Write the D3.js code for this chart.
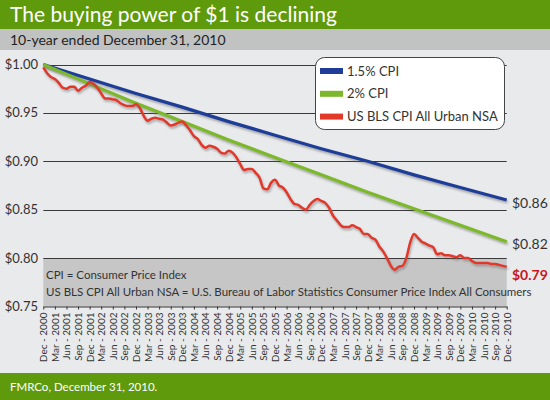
<!DOCTYPE html>
<html>
<head>
<meta charset="utf-8">
<script src="https://cdn.jsdelivr.net/npm/d3@7"></script>
<style>
  html, body { margin: 0; padding: 0; background: #fff; }
  svg { display: block; font-family: Lato, "Open Sans", sans-serif; }
</style>
</head>
<body>
<svg id="chart" width="550" height="400"></svg>
<script>
// ---- data ----
const title = "The buying power of $1 is declining";
const subtitle = "10-year ended December 31, 2010";
const footer = "FMRCo, December 31, 2010.";
const seriesNames = ["1.5% CPI", "2% CPI", "US BLS CPI All Urban NSA"];
const yTicks = [0.75, 0.80, 0.85, 0.90, 0.95, 1.00];
const xTickLabels = [
  "Dec - 2000","Mar - 2001","Jun - 2001","Sep - 2001","Dec - 2001","Mar - 2002","Jun - 2002","Sep - 2002",
  "Dec - 2002","Mar - 2003","Jun - 2003","Sep - 2003","Dec - 2003","Mar - 2004","Jun - 2004","Sep - 2004",
  "Dec - 2004","Mar - 2005","Jun - 2005","Sep - 2005","Dec - 2005","Mar - 2006","Jun - 2006","Sep - 2006",
  "Dec - 2006","Mar - 2007","Jun - 2007","Sep - 2007","Dec - 2007","Mar - 2008","Jun - 2008","Sep - 2008",
  "Dec - 2008","Mar - 2009","Jun - 2009","Sep - 2009","Dec - 2009","Mar - 2010","Jun - 2010","Sep - 2010",
  "Dec - 2010"
];
// yearly values (Dec 2000 .. Dec 2010)
const cpi15 = [1.000, 0.985, 0.970, 0.956, 0.941, 0.927, 0.913, 0.900, 0.886, 0.873, 0.860];
const cpi2  = [1.000, 0.980, 0.960, 0.941, 0.922, 0.904, 0.886, 0.868, 0.851, 0.834, 0.817];
// monthly values (Dec 2000 .. Dec 2010)
const blsCpi = [
  0.997,
  0.991, 0.987, 0.985, 0.981, 0.976, 0.975, 0.977, 0.977, 0.973, 0.976, 0.978, 0.982,
  0.980, 0.976, 0.970, 0.965, 0.965, 0.964, 0.963, 0.960, 0.958, 0.957, 0.957, 0.959,
  0.955, 0.947, 0.942, 0.944, 0.945, 0.944, 0.943, 0.940, 0.937, 0.938, 0.940, 0.941,
  0.937, 0.932, 0.926, 0.923, 0.917, 0.914, 0.916, 0.915, 0.913, 0.909, 0.908, 0.911,
  0.909, 0.904, 0.897, 0.891, 0.892, 0.892, 0.888, 0.883, 0.872, 0.871, 0.878, 0.881,
  0.875, 0.873, 0.868, 0.861, 0.856, 0.855, 0.852, 0.850, 0.855, 0.859, 0.861, 0.859,
  0.857, 0.852, 0.844, 0.839, 0.834, 0.832, 0.832, 0.834, 0.832, 0.830, 0.825, 0.825,
  0.821, 0.819, 0.812, 0.807, 0.800, 0.792, 0.788, 0.791, 0.792, 0.800, 0.816, 0.825,
  0.821, 0.817, 0.815, 0.813, 0.811, 0.804, 0.805, 0.803, 0.803, 0.802, 0.801, 0.803,
  0.800, 0.800, 0.797, 0.795, 0.795, 0.795, 0.795, 0.794, 0.794, 0.793, 0.792, 0.791
];
const endLabels = ["$0.86", "$0.82", "$0.79"];
const notes = ["CPI = Consumer Price Index",
  "US BLS CPI All Urban NSA = U.S. Bureau of Labor Statistics Consumer Price Index All Consumers"];

// ---- styles ----
const colors = ["#1f3d98", "#7cb82a", "#e2392b"];
const green = "#5f9a0c";

const svg = d3.select("#chart");
const W = 550, H = 400;

// backgrounds
svg.append("rect").attr("x", 0).attr("y", 0).attr("width", W).attr("height", H).attr("fill", "#e8eaeb");
svg.append("rect").attr("x", 0).attr("y", 0).attr("width", W).attr("height", 29).attr("fill", green);
svg.append("rect").attr("x", 0).attr("y", 29).attr("width", W).attr("height", 21).attr("fill", "#c1c2c2");
svg.append("rect").attr("x", 0).attr("y", 373).attr("width", W).attr("height", 27).attr("fill", green);

svg.append("text").attr("x", 10).attr("y", 22).attr("fill", "#fff")
  .attr("font-size", 21).text(title);
svg.append("text").attr("x", 10).attr("y", 45).attr("fill", "#222")
  .attr("font-size", 14).text(subtitle);
svg.append("text").attr("x", 10).attr("y", 391).attr("fill", "#fff")
  .attr("font-size", 11.5).text(footer);

// scales
const x0 = 43.3, x1 = 506.7;
const x = d3.scaleLinear().domain([0, 120]).range([x0, x1]);
const y = d3.scaleLinear().domain([0.75, 1.00]).range([306.5, 64.5]);

// shaded note box
svg.append("rect").attr("x", x0).attr("y", y(0.80)).attr("width", x1 - x0)
  .attr("height", y(0.75) - y(0.80)).attr("fill", "#c6c6c6");

// gridlines
svg.append("g").selectAll("line").data(yTicks.filter(d => d > 0.75)).join("line")
  .attr("x1", x0).attr("x2", x1).attr("y1", d => Math.round(y(d)) + 0.5).attr("y2", d => Math.round(y(d)) + 0.5)
  .attr("stroke", "#3a3a3a").attr("stroke-width", 1);

// y labels
svg.append("g").selectAll("text").data(yTicks).join("text")
  .attr("x", 38).attr("y", d => y(d)).attr("dy", "0.35em").attr("text-anchor", "end")
  .attr("fill", "#333").attr("font-size", 13)
  .text(d => "$" + d.toFixed(2));

// notes text
svg.append("g").selectAll("text").data(notes).join("text")
  .attr("x", 46).attr("y", (d, i) => 279 + i * 17).attr("fill", "#333").attr("font-size", 11.5)
  .text(d => d);

// x axis
const xq = d3.scaleLinear().domain([0, xTickLabels.length - 1]).range([x0, x1]);
const xAxis = d3.axisBottom(xq).tickValues(d3.range(xTickLabels.length))
  .tickFormat(i => xTickLabels[i]).tickSize(3).tickSizeOuter(0);
const gx = svg.append("g").attr("transform", `translate(0,${y(0.75)})`).call(xAxis);
gx.select(".domain").attr("stroke", "#333");
gx.selectAll(".tick line").attr("stroke", "#333");
gx.selectAll(".tick text")
  .attr("font-family", "Lato, sans-serif").attr("font-size", 10).attr("fill", "#333")
  .attr("text-anchor", "end").attr("transform", "rotate(-90)")
  .attr("x", -6).attr("y", 0).attr("dy", "0.35em");

// shadow filter
const defs = svg.append("defs");
const f = defs.append("filter").attr("id", "shadow").attr("x", "-5%").attr("y", "-5%").attr("width", "110%").attr("height", "120%");
f.append("feDropShadow").attr("dx", 1).attr("dy", 2).attr("stdDeviation", 1.2)
  .attr("flood-color", "#555").attr("flood-opacity", 0.45);

// lines
const lineYear = d3.line().x((d, i) => x(i * 12)).y(d => y(d));
const lineMonth = d3.line().x((d, i) => x(i)).y(d => y(d)).curve(d3.curveMonotoneX);

svg.append("path").datum(cpi15).attr("d", lineYear).attr("fill", "none")
  .attr("stroke", colors[0]).attr("stroke-width", 3.2).attr("filter", "url(#shadow)");
svg.append("path").datum(cpi2).attr("d", lineYear).attr("fill", "none")
  .attr("stroke", colors[1]).attr("stroke-width", 3.2).attr("filter", "url(#shadow)");
svg.append("path").datum(blsCpi).attr("d", lineMonth).attr("fill", "none")
  .attr("stroke", colors[2]).attr("stroke-width", 2.5).attr("stroke-linejoin", "round")
  .attr("filter", "url(#shadow)");

// end labels
const endVals = [cpi15[cpi15.length - 1], cpi2[cpi2.length - 1], blsCpi[blsCpi.length - 1]];
const endOffsets = [3, 2.5, 8.5];
svg.append("g").selectAll("text").data(endLabels).join("text")
  .attr("x", 512).attr("y", (d, i) => y(endVals[i]) + endOffsets[i]).attr("dy", "0.35em")
  .attr("font-size", 14)
  .attr("font-weight", (d, i) => i === 2 ? "bold" : "normal")
  .attr("fill", (d, i) => i === 2 ? "#c8161d" : "#333")
  .text(d => d);

// legend
const lg = svg.append("g");
lg.append("rect").attr("x", 315.5).attr("y", 57.5).attr("width", 189).attr("height", 72)
  .attr("rx", 9).attr("fill", "#fff").attr("stroke", "#444").attr("stroke-width", 1);
const items = lg.selectAll("g").data(seriesNames).join("g")
  .attr("transform", (d, i) => `translate(320,${71 + i * 22.8})`);
items.append("rect").attr("x", 0).attr("y", -3).attr("width", 23).attr("height", 6)
  .attr("fill", (d, i) => colors[i]);
items.append("text").attr("x", 27).attr("y", 0).attr("dy", "0.36em")
  .attr("font-size", 13).attr("fill", "#333").text(d => d);
</script>
</body>
</html>
